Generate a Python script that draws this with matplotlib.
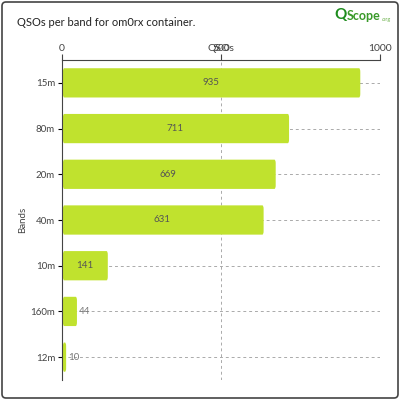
import matplotlib
matplotlib.use("Agg")
import matplotlib.pyplot as plt
from matplotlib.patches import FancyBboxPatch

bands = ["15m", "80m", "20m", "40m", "10m", "160m", "12m"]
qsos = [935, 711, 669, 631, 141, 44, 10]

plt.rcParams['font.family'] = ['Lato', 'DejaVu Sans']
fig = plt.figure(figsize=(4, 4), dpi=100)
ax = fig.add_axes([0.155, 0.05, 0.795, 0.8])
ys = list(range(len(bands)))
for y, v in zip(ys, qsos):
    ax.add_patch(FancyBboxPatch((3, y - 0.32), v, 0.64,
                                boxstyle="round,pad=0,rounding_size=4",
                                mutation_aspect=0.02,
                                fc="#c0e22e", ec="none", zorder=2))
    if v > 100:
        ax.text(v / 2, y, str(v), ha="center", va="center", fontsize=7, color="#555555", zorder=3)
    else:
        ax.text(v + 8, y, str(v), ha="left", va="center", fontsize=7, color="#777777", zorder=3)
ax.set_xlim(0, 1000)
ax.set_ylim(len(bands) - 0.5, -0.5)
ax.set_yticks(ys)
ax.set_yticklabels(bands, fontsize=7, color="#444444")
ax.set_xticks([0, 500, 1000])
ax.xaxis.tick_top()
ax.xaxis.set_label_position("top")
ax.tick_params(axis="x", labelsize=7.5, colors="#444444", length=4, pad=1)
ax.tick_params(axis="y", length=3, pad=2)
ax.set_xlabel("QSOs", fontsize=7.5, color="#444444", labelpad=-5)
ax.set_ylabel("Bands", fontsize=7, color="#444444", labelpad=2)
ax.grid(True, linestyle=(0, (3, 3)), color="#aaaaaa", linewidth=0.7, zorder=0)
for s in ["right", "bottom"]:
    ax.spines[s].set_visible(False)
ax.spines["top"].set_color("#444444")
ax.spines["left"].set_color("#444444")
for t in ax.get_xticklabels() + ax.get_yticklabels():
    t.set_zorder(5)
fig.text(0.042, 0.945, "QSOs per band for om0rx container.", fontsize=8, color="#222222", va="center")
fig.text(0.835, 0.962, "Q", fontsize=11, color="#1d8c1d", weight="bold", va="center")
fig.text(0.868, 0.96, "Scope", fontsize=9, color="#3a9a2a", weight="bold", va="center")
fig.text(0.955, 0.952, ".org", fontsize=4, color="#6ab04a", va="center")
fig.add_artist(FancyBboxPatch((0.005, 0.005), 0.99, 0.99, boxstyle="round,pad=0,rounding_size=0.01",
                              transform=fig.transFigure, fc="none", ec="#444444", lw=1.2))
fig.savefig("out.png", dpi=100)
